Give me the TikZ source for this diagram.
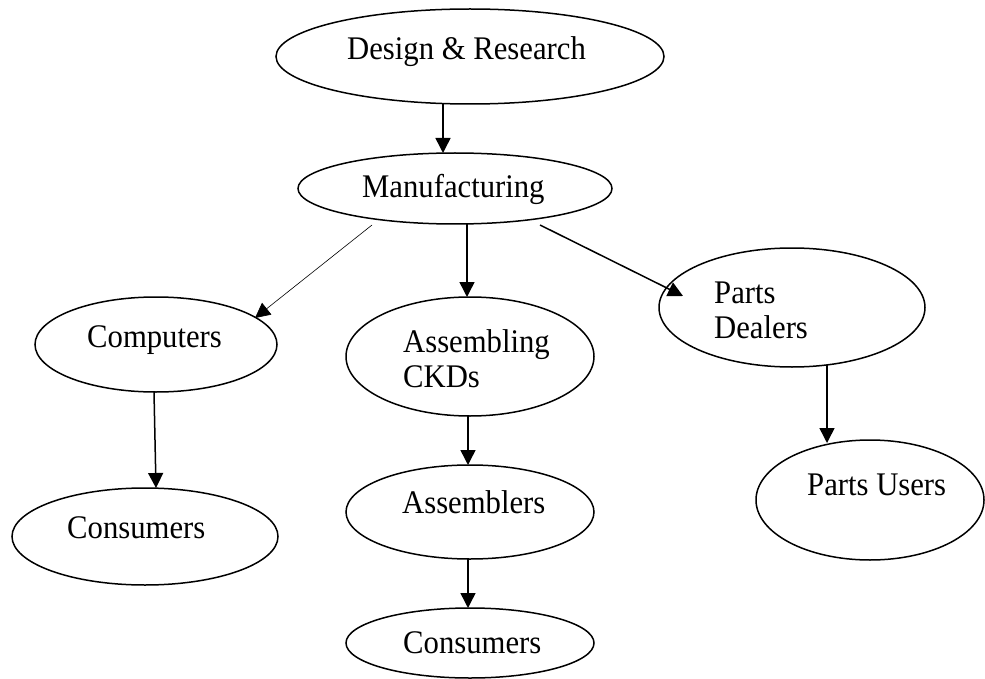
\documentclass[tikz,border=0pt]{standalone}
\usepackage{fontspec}
\setmainfont[FakeStretch=0.93]{Liberation Serif}
\usetikzlibrary{shapes.geometric,arrows.meta,calc}
\begin{document}
\begin{tikzpicture}[x=1pt,y=-1pt,
  oval/.style={draw, ellipse, line width=1.5pt, inner sep=0pt, outer sep=0pt},
  lbl/.style={anchor=base west, inner sep=0pt, font=\fontsize{33}{35.5}\selectfont},
  arr/.style={line width=1.5pt, -{Triangle[length=15pt,width=15pt]}},
  thinarr/.style={line width=0.6pt, -{Triangle[length=15pt,width=15pt]}}]
\useasboundingbox (0,0) rectangle (985,679);
% ellipses
\node[oval, minimum width=388pt, minimum height=95pt] (des) at (470,56.5) {};
\node[oval, minimum width=314pt, minimum height=71pt] (manu) at (455,188.5) {};
\node[oval, minimum width=242pt, minimum height=95pt] (comp) at (156,344.5) {};
\node[oval, minimum width=248pt, minimum height=119pt] (asmck) at (470,356.5) {};
\node[oval, minimum width=266pt, minimum height=119pt] (deal) at (792,307.5) {};
\node[oval, minimum width=266pt, minimum height=97pt] (consA) at (145,536.5) {};
\node[oval, minimum width=248pt, minimum height=94pt] (asm) at (470,512) {};
\node[oval, minimum width=228pt, minimum height=120pt] (users) at (870,500) {};
\node[oval, minimum width=248pt, minimum height=70pt] (consB) at (470,643) {};
% labels
\node[lbl] (tdes) at (347,60) {Design \& Research};
\node[lbl] (tmanu) at (362,198) {Manufacturing};
\node[lbl] (tcomp) at (87,347) {Computers};
\node[lbl] (tasmck) at (403,352) {\vtop{\hbox{Assembling}\hbox{CKDs}}};
\node[lbl] (tdeal) at (714,303) {\vtop{\hbox{Parts}\hbox{Dealers}}};
\node[lbl] (tconsA) at (67,538) {Consumers};
\node[lbl] (tasm) at (402,513) {Assemblers};
\node[lbl] (tusers) at (807,495) {Parts Users};
\node[lbl] (tconsB) at (403,653) {Consumers};
% connectors
\draw[arr] ($(des.center)+(-27,47.5)$) -- ($(manu.center)+(-12,-35.5)$);
\draw[thinarr] ($(manu.center)+(-83,36.5)$) -- ($(comp.center)+(99,-26.5)$);
\draw[arr] ($(manu.center)+(12,35.5)$) -- ($(asmck.center)+(-3,-59.5)$);
\draw[arr] ($(manu.center)+(85,36.5)$) -- ($(deal.center)+(-109,-11.5)$);
\draw[arr] ($(comp.center)+(-2,47.5)$) -- ($(consA.center)+(11,-48.5)$);
\draw[arr] ($(asmck.center)+(-2,59.5)$) -- ($(asm.center)+(-2,-47)$);
\draw[arr] ($(deal.center)+(35,57.5)$) -- ($(users.center)+(-43,-57)$);
\draw[arr] ($(asm.center)+(-2,47)$) -- ($(consB.center)+(-2,-35)$);
\end{tikzpicture}
\end{document}
